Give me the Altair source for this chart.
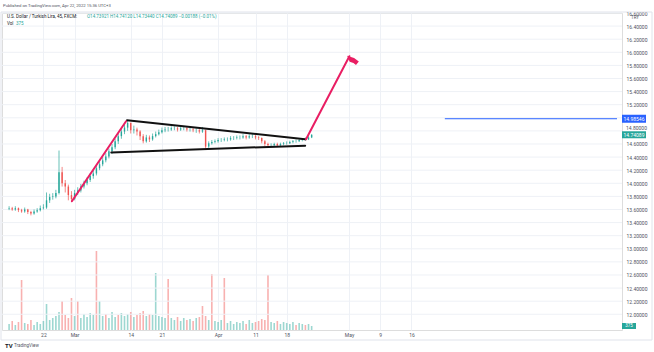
import altair as alt
import pandas as pd

# ---------------- data ----------------
# time axis: trading days counted from Tue 22 Feb 2022 (weekends removed)
time_ticks = [0, 5, 14, 19, 28, 34, 39, 49, 54, 59]
time_labels = ["22", "Mar", "14", "21", "Apr", "11", "18", "May", "9", "16"]
price_ticks = [12.0, 12.2, 12.4, 12.6, 12.8, 13.0, 13.2, 13.4, 13.6, 13.8, 14.0, 14.2,
               14.4, 14.6, 14.8, 15.0, 15.2, 15.4, 15.6, 15.8, 16.0, 16.2, 16.4, 16.6]
hidden_ticks = [15.0]          # covered by the blue price label
squeezed_ticks = [14.8]        # pushed up by the last-price label

# half-day candles, first one at t = -5.5
t_first, t_step = -5.5, 0.5
opens = [13.61,13.62,13.60,13.62,13.59,13.57,13.60,13.56,13.54,13.57,
         13.59,13.62,13.63,13.74,13.79,13.80,13.85,14.17,14.00,13.95,
         13.82,13.76,13.85,13.89,13.95,14.00,14.05,14.11,14.15,14.23,
         14.29,14.35,14.41,14.49,14.55,14.64,14.72,14.79,14.85,14.92,
         14.81,14.82,14.79,14.72,14.64,14.70,14.67,14.72,14.75,14.78,
         14.81,14.82,14.82,14.84,14.84,14.82,14.84,14.84,14.82,14.82,
         14.81,14.81,14.79,14.81,14.56,14.61,14.63,14.64,14.66,14.66,
         14.67,14.67,14.69,14.69,14.70,14.70,14.72,14.70,14.72,14.72,
         14.70,14.69,14.64,14.60,14.58,14.58,14.60,14.58,14.60,14.61,
         14.61,14.63,14.64,14.64,14.66,14.67,14.67,14.70]
closes = [13.62,13.60,13.62,13.59,13.57,13.60,13.56,13.54,13.57,13.59,
          13.62,13.63,13.74,13.79,13.80,13.85,14.17,14.00,13.95,13.82,
          13.76,13.85,13.89,13.95,14.00,14.05,14.11,14.15,14.23,14.29,
          14.35,14.41,14.49,14.55,14.64,14.72,14.79,14.85,14.92,14.81,
          14.82,14.79,14.72,14.64,14.70,14.67,14.72,14.75,14.78,14.81,
          14.82,14.82,14.84,14.84,14.82,14.84,14.84,14.82,14.82,14.81,
          14.81,14.79,14.81,14.56,14.61,14.63,14.64,14.66,14.66,14.67,
          14.67,14.69,14.69,14.70,14.70,14.72,14.70,14.72,14.72,14.70,
          14.69,14.64,14.60,14.58,14.58,14.60,14.58,14.60,14.61,14.61,
          14.63,14.64,14.64,14.66,14.67,14.67,14.70,14.74]
highs = [13.65,13.64,13.65,13.63,13.61,13.63,13.61,13.58,13.60,13.62,
         13.66,13.68,13.86,13.84,13.85,13.90,14.50,14.25,14.05,13.98,
         13.88,13.90,13.94,13.99,14.04,14.09,14.15,14.20,14.27,14.33,
         14.40,14.46,14.53,14.60,14.68,14.76,14.84,14.90,14.96,14.93,
         14.88,14.85,14.81,14.75,14.74,14.73,14.76,14.79,14.82,14.85,
         14.86,14.86,14.87,14.87,14.86,14.87,14.87,14.86,14.85,14.85,
         14.84,14.83,14.86,14.82,14.64,14.66,14.67,14.69,14.69,14.70,
         14.70,14.72,14.72,14.73,14.73,14.75,14.74,14.75,14.75,14.74,
         14.72,14.70,14.66,14.62,14.61,14.62,14.62,14.62,14.63,14.64,
         14.65,14.66,14.67,14.68,14.69,14.70,14.72,14.75]
lows = [13.59,13.58,13.58,13.56,13.55,13.55,13.53,13.51,13.52,13.55,
        13.57,13.60,13.61,13.70,13.75,13.77,13.83,13.95,13.86,13.74,
        13.72,13.74,13.82,13.86,13.92,13.97,14.02,14.07,14.12,14.20,
        14.26,14.32,14.38,14.45,14.52,14.60,14.68,14.75,14.80,14.76,
        14.76,14.73,14.66,14.61,14.62,14.63,14.65,14.70,14.73,14.76,
        14.78,14.79,14.80,14.81,14.79,14.80,14.81,14.79,14.79,14.78,
        14.77,14.76,14.77,14.53,14.54,14.59,14.61,14.62,14.63,14.64,
        14.64,14.65,14.66,14.67,14.67,14.68,14.67,14.68,14.69,14.67,
        14.66,14.61,14.57,14.55,14.56,14.56,14.56,14.57,14.58,14.59,
        14.60,14.61,14.62,14.63,14.64,14.65,14.66,14.69]
volumes = [6,9,5,8,50,7,6,10,5,8,
           6,9,26,10,12,14,18,29,15,12,
           32,14,29,12,16,13,17,15,79,29,
           14,16,12,18,13,15,17,14,16,18,
           13,15,17,19,14,16,15,57,14,13,
           12,51,12,10,13,9,12,10,11,9,
           12,13,24,14,10,56,9,8,10,52,
           7,9,6,8,7,9,6,10,7,8,
           9,11,10,55,8,7,9,6,8,7,
           6,8,5,7,6,5,6,4]
vol_dir = ("ududdudduu" "uuuuuuuddd" "duduuuuudu" "uduuuduuud" "uddduduuuu"
           "uduuduudud" "uddduduuud" "uuuuuuduud" "dddduuduuu" "uuduuduu")

# drawings: segments (t1, p1) -> (t2, p2)
black_t1, black_p1 = [13.40, 10.88], [14.962, 14.47]
black_t2, black_p2 = [41.96, 41.96], [14.672, 14.575]
pink_t1, pink_p1 = [4.57, 42.10], [13.725, 14.672]
pink_t2, pink_p2 = [13.25, 49.05], [14.947, 15.94]
flag_t, flag_p = [49.6], [15.87]
hline_t, hline_p = [64.35], [14.98546]
last_price = [14.74089]

# ---------------- chart ----------------
TEAL, RED, PINK, BLUE = "#26a69a", "#ef5350", "#e91e63", "#2962ff"
FONT = "Roboto"
T_MIN, T_MAX = -5.836, 91.95
GRID = "#eef1f6"
LABEL = "#50535e"

n = len(closes)
candles = pd.DataFrame({
    "t": [t_first + t_step * i for i in range(n)],
    "open": opens, "high": highs, "low": lows, "close": closes,
    "vol": volumes, "vdir": list(vol_dir),
})

label_expr = " : ".join(f"datum.value == {v} ? '{l}'" for v, l in zip(time_ticks, time_labels)) + " : ''"
axis_ticks = [p for p in price_ticks if p not in hidden_ticks + squeezed_ticks]

xs = alt.Scale(domain=[T_MIN, T_MAX], nice=False, zero=False)
ys = alt.Scale(domain=[11.76, 16.60], nice=False, zero=False)
vs = alt.Scale(domain=[0, 317], nice=False, zero=True)

xaxis = alt.Axis(values=time_ticks, labelExpr=label_expr, title=None, grid=True,
                 gridColor=GRID, gridWidth=1, ticks=False, domain=False,
                 labelFontSize=5, labelColor=LABEL, labelFont=FONT, labelPadding=2)
yaxis = alt.Axis(values=axis_ticks, format=".5f", orient="right", title=None, grid=False,
                 ticks=False, domain=False,
                 labelFontSize=5, labelColor=LABEL, labelFont=FONT, labelPadding=4,
                 labelOverlap=False)

X = alt.X("t:Q", scale=xs, axis=xaxis)
PY = lambda f: alt.Y(f, scale=ys, axis=yaxis)
dir_color = alt.Color("up:N", scale=alt.Scale(domain=["u", "d"], range=[TEAL, RED]), legend=None)

hgrid = alt.Chart(pd.DataFrame({"p": price_ticks})).mark_rule(color=GRID, strokeWidth=1).encode(
    y=PY("p:Q"))

base = alt.Chart(candles).transform_calculate(up="datum.close >= datum.open ? 'u' : 'd'")
wick = base.mark_rule(strokeWidth=0.7).encode(x=X, y=PY("low:Q"), y2="high:Q", color=dir_color)
body = base.mark_bar(size=1.4).encode(x=X, y=PY("open:Q"), y2="close:Q", color=dir_color)

def segments(t1, p1, t2, p2, color):
    d = pd.DataFrame({"t1": t1, "p1": p1, "t2": t2, "p2": p2})
    return alt.Chart(d).mark_rule(strokeWidth=2, strokeCap="round", color=color).encode(
        x=alt.X("t1:Q", scale=xs, axis=xaxis), x2="t2:Q", y=PY("p1:Q"), y2="p2:Q")

black_lines = segments(black_t1, black_p1, black_t2, black_p2, "#111111")
pink_lines = segments(pink_t1, pink_p1, pink_t2, pink_p2, PINK)

flag_path = "M-0.9,-0.8 L0.2,-0.45 L0.95,0.1 L0.5,0.65 L0.1,0.35 L-0.5,0.15 Z"
flag = alt.Chart(pd.DataFrame({"t": flag_t, "p": flag_p})).mark_point(
    shape=flag_path, filled=True, size=160, color=PINK, opacity=1).encode(
    x=alt.X("t:Q", scale=xs, axis=xaxis), y=PY("p:Q"))

hdf = pd.DataFrame({"t": hline_t, "tend": [T_MAX], "p": hline_p,
                    "txt": [f"{v:.5f}" for v in hline_p]})
hline = alt.Chart(hdf).mark_rule(color=BLUE, strokeWidth=1).encode(
    x=alt.X("t:Q", scale=xs, axis=xaxis), x2="tend:Q", y=PY("p:Q"))
hbox = alt.Chart(hdf).mark_rect(color=BLUE, yOffset=-4, y2Offset=4, clip=False).encode(
    x=alt.value(620), x2=alt.value(644), y=PY("p:Q"), y2="p:Q")
htxt = alt.Chart(hdf).mark_text(color="white", fontSize=5, font=FONT, clip=False).encode(
    x=alt.value(632), y=PY("p:Q"), text="txt:N")

sq = pd.DataFrame({"p": squeezed_ticks, "txt": [f"{v:.5f}" for v in squeezed_ticks]})
sqtxt = alt.Chart(sq).mark_text(color=LABEL, fontSize=5, font=FONT, align="left",
                                baseline="bottom", dy=0.5, clip=False).encode(
    x=alt.value(624), y=PY("p:Q"), text="txt:N")

ldf = pd.DataFrame({"p": last_price, "txt": [f"{v:.5f}" for v in last_price]})
lbox = alt.Chart(ldf).mark_rect(color=TEAL, yOffset=-3.5, y2Offset=3.5, clip=False).encode(
    x=alt.value(620), x2=alt.value(644), y=PY("p:Q"), y2="p:Q")
ltxt = alt.Chart(ldf).mark_text(color="white", fontSize=5, font=FONT, clip=False).encode(
    x=alt.value(632), y=PY("p:Q"), text="txt:N")

price = alt.layer(hgrid, wick, body, black_lines, pink_lines, flag, hline,
                  hbox, htxt, sqtxt, lbox, ltxt)

vbars = base.mark_bar(size=1.6, opacity=0.45).encode(
    x=X, y=alt.Y("vol:Q", scale=vs, axis=None),
    color=alt.Color("vdir:N", scale=alt.Scale(domain=["u", "d"], range=[TEAL, RED]), legend=None))
vdf = pd.DataFrame({"v": [volumes[-1]], "txt": ["375"]})
vbox = alt.Chart(vdf).mark_rect(color=TEAL, yOffset=-3, y2Offset=3, clip=False).encode(
    x=alt.value(620), x2=alt.value(634), y=alt.Y("v:Q", scale=vs, axis=None), y2="v:Q")
vtxt = alt.Chart(vdf).mark_text(color="white", fontSize=4.5, font=FONT, clip=False).encode(
    x=alt.value(627), y=alt.Y("v:Q", scale=vs, axis=None), text="txt:N")
volume = alt.layer(vbars, vbox, vtxt)

one = pd.DataFrame({"a": [0]})
frame = alt.Chart(one).mark_rect(fillOpacity=0, stroke="#e0e3eb", strokeWidth=1, clip=False).encode(
    x=alt.value(-1), x2=alt.value(650), y=alt.value(-1), y2=alt.value(327))

def txt(s, x, y, color="#131722", size=4.5, weight="normal"):
    return alt.Chart(pd.DataFrame({"s": [s]})).mark_text(
        align="left", baseline="middle", color=color, fontSize=size, font=FONT,
        fontWeight=weight, clip=False).encode(x=alt.value(x), y=alt.value(y), text="s:N")

texts = alt.layer(
    txt("Published on TradingView.com, Apr 22, 2022 15:36 UTC+3", 1, -7, LABEL, 4.2),
    txt("U.S. Dollar / Turkish Lira, 45, FXCM:", 5, 4, "#131722", 4.5),
    txt("O14.73921 H14.74120 L14.73440 C14.74089 \u22120.00188 (\u22120.01%)", 85, 4, TEAL, 4.5),
    txt("Vol", 5, 11, "#131722", 4.5),
    txt("375", 14, 11, TEAL, 4.5),
    txt("TRY", 629, 5, LABEL, 4.5),
    txt("TV", 3, 333, "#131722", 6, "bold"),
    txt("TradingView", 12, 333, LABEL, 4.5),
)

chart = alt.layer(volume, price, frame, texts).resolve_scale(y="independent").properties(
    width=620, height=317,
    autosize=alt.AutoSizeParams(type="none"),
    padding={"left": 2, "top": 13, "right": 32, "bottom": 22},
).configure_view(stroke="#e0e3eb").configure(background="white")

chart.save("out.html", embed_options={"renderer": "svg", "actions": False})
